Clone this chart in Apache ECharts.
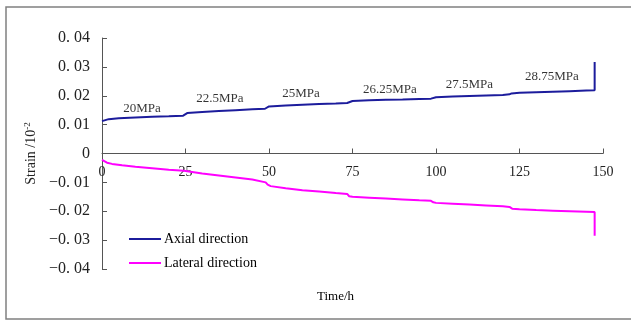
<!DOCTYPE html>
<html><head><meta charset="utf-8">
<script src="https://cdn.jsdelivr.net/npm/echarts@6/dist/echarts.min.js"></script>
<style>html,body{margin:0;padding:0;background:#fff}#c{width:631px;height:321px}</style>
</head><body><div id="c"></div>
<script>
const axialTime = [0,0.5,2,5,10,15,20,24.3,24.8,25.5,30,35,40,45,48.8,49.3,50,55,60,65,70,73.4,73.9,75,80,85,90,95,98.5,99,100,105,110,115,120,122,122.6,125,130,135,140,145,147.5,147.5];
const axialStrain = [0.0112,0.0115,0.0119,0.0122,0.0125,0.0127,0.0129,0.0131,0.0137,0.0140,0.0144,0.0147,0.0150,0.0153,0.0155,0.0160,0.0163,0.0166,0.0169,0.0171,0.0173,0.0175,0.0180,0.0182,0.0184,0.0186,0.0187,0.0189,0.0190,0.0193,0.0195,0.0197,0.0199,0.0201,0.0203,0.0205,0.0208,0.0210,0.0212,0.0214,0.0216,0.0218,0.0219,0.0317];
const lateralTime = [0,0.5,1.5,3,6,10,15,20,24.5,25,30,35,40,45,49,49.6,50.5,55,60,65,70,73.4,74,75,80,85,90,95,98.5,99.2,100,105,110,115,120,122,122.8,125,130,135,140,145,147.5,147.5];
const lateralStrain = [-0.0022,-0.0027,-0.0032,-0.0036,-0.0041,-0.0046,-0.0051,-0.0056,-0.0060,-0.0063,-0.0069,-0.0076,-0.0083,-0.0090,-0.0100,-0.0108,-0.0113,-0.0120,-0.0127,-0.0132,-0.0137,-0.0140,-0.0148,-0.0150,-0.0153,-0.0156,-0.0159,-0.0162,-0.0164,-0.0169,-0.0171,-0.0174,-0.0177,-0.0180,-0.0183,-0.0185,-0.0191,-0.0193,-0.0196,-0.0198,-0.0200,-0.0202,-0.0203,-0.0285];
const stressLabels = ['20MPa','22.5MPa','25MPa','26.25MPa','27.5MPa','28.75MPa'];
const stressLabelTime = [12,35.3,59.6,86.2,110,134.7];
const stressLabelStrain = [0.0157,0.0189,0.0206,0.0223,0.0240,0.0268];
const seriesNames = ['Axial direction','Lateral direction'];
const xTicks = [0,25,50,75,100,125,150];
const yTicks = [-0.04,-0.03,-0.02,-0.01,0,0.01,0.02,0.03,0.04];

const zip = (a,b) => a.map((v,i)=>[v,b[i]]);
const serif = 'Liberation Serif';
const gridTop = 38, gridBottom = 52, H = 321;
const plotH = H - gridTop - gridBottom;
const chart = echarts.init(document.getElementById('c'));
chart.setOption({
  animation:false,
  grid:{left:102,right:28,top:gridTop,bottom:gridBottom},
  graphic:[
    {type:'rect',shape:{x:6,y:7,width:640,height:312},style:{fill:'none',stroke:'#808080',lineWidth:1.5},z:-1},
    {type:'text',left:317,top:290,style:{text:'Time/h',font:'13px '+serif,fill:'#000'}}
  ],
  legend:{orient:'vertical',left:124,top:227,itemWidth:32,itemHeight:2,itemGap:10,
    textStyle:{fontFamily:serif,fontSize:14,color:'#000',padding:[0,0,0,-2]},
    data:seriesNames.map(n=>({name:n,icon:'rect'}))},
  xAxis:{type:'value',min:xTicks[0],max:xTicks[xTicks.length-1],interval:25,
    axisLine:{onZero:false,lineStyle:{color:'#555',width:1}},
    offset:-plotH/2,
    axisTick:{inside:true,length:5,lineStyle:{color:'#555'}},
    axisLabel:{margin:12,fontFamily:serif,fontSize:14,color:'#222'},
    splitLine:{show:false}},
  yAxis:{type:'value',min:yTicks[0],max:yTicks[yTicks.length-1],interval:0.01,
    name:'{a|Strain /10}{s|-2}',nameLocation:'middle',nameGap:60,nameRotate:90,
    nameTextStyle:{rich:{a:{fontFamily:serif,fontSize:14,color:'#222'},s:{fontFamily:serif,fontSize:9,color:'#222',verticalAlign:'top',padding:[0,0,7,0]}}},
    axisLine:{lineStyle:{color:'#555',width:1}},
    axisTick:{inside:true,length:5,lineStyle:{color:'#555'}},
    axisLabel:{margin:12,fontFamily:serif,fontSize:16,color:'#222',
      formatter:v=>{const r=Math.round(v*100)/100; if(r===0) return '0'; const s=Math.abs(r).toFixed(2).replace('.','. '); return (r<0?'\u2212':'')+s;}},
    splitLine:{show:false}},
  series:[
    {name:seriesNames[0],type:'line',symbol:'none',data:zip(axialTime,axialStrain),lineStyle:{color:'#1c1c9c',width:2},itemStyle:{color:'#1c1c9c'}},
    {name:seriesNames[1],type:'line',symbol:'none',data:zip(lateralTime,lateralStrain),lineStyle:{color:'#ff00ff',width:2},itemStyle:{color:'#ff00ff'}},
    {name:'labels',type:'scatter',symbolSize:0,data:zip(stressLabelTime,stressLabelStrain).map((p,i)=>({value:p,label:{formatter:stressLabels[i]}})),
      label:{show:true,position:'inside',fontFamily:serif,fontSize:13,color:'#000'},silent:true}
  ]
});
</script></body></html>
